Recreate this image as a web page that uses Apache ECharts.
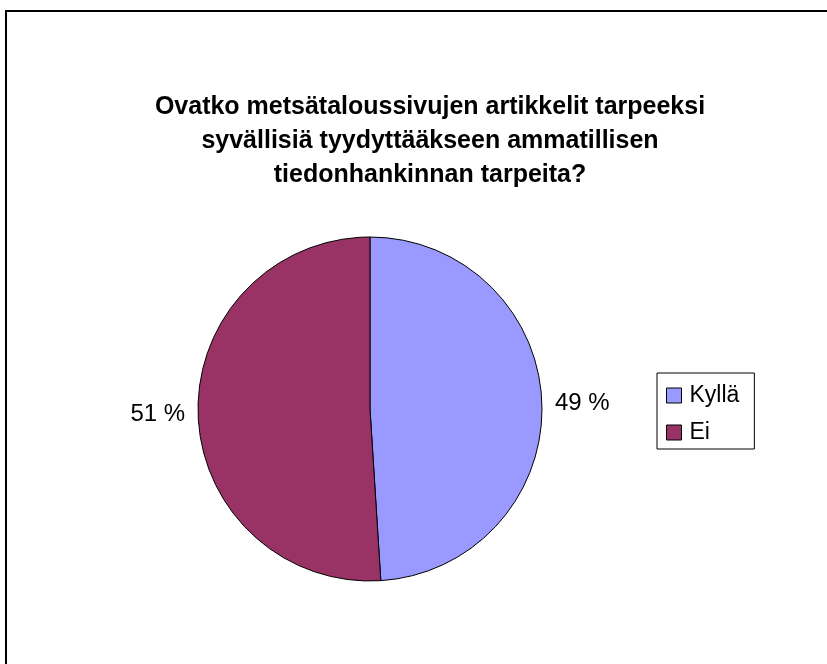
<!DOCTYPE html>
<html><head><meta charset="utf-8">
<script src="https://cdn.jsdelivr.net/npm/echarts@6/dist/echarts.min.js"></script>
<style>html,body{margin:0;padding:0;background:#fff}#c{width:827px;height:664px}</style>
</head><body><div id="c"></div>
<script>
const titleText = 'Ovatko metsätaloussivujen artikkelit tarpeeksi\nsyvällisiä tyydyttääkseen ammatillisen\ntiedonhankinnan tarpeita?';
const categories = ['Kyllä', 'Ei'];
const values = [49, 51];
const colors = ['#9999FF', '#993366'];

const chart = echarts.init(document.getElementById('c'), null, {renderer: 'canvas'});
chart.setOption({
  animation: false,
  backgroundColor: '#fff',
  graphic: [{
    type: 'rect', shape: {x: 6, y: 11, width: 900, height: 800},
    style: {fill: 'none', stroke: '#000', lineWidth: 2}, silent: true
  }],
  title: {
    text: titleText, left: 425, top: 85, textAlign: 'center',
    textStyle: {fontFamily: 'Liberation Sans, Arial', fontWeight: 'bold', fontSize: 25, lineHeight: 34, color: '#000'}
  },
  legend: {
    orient: 'vertical', left: 657, top: 373, itemWidth: 15, itemHeight: 15, itemGap: 14,
    padding: [11, 15, 5, 9], borderColor: '#000', borderWidth: 1,
    icon: 'rect',
    textStyle: {fontFamily: 'Liberation Sans, Arial', fontSize: 23, lineHeight: 23, color: '#000', padding: [0, 0, 0, 3]},
    data: categories.map(function (n) { return {name: n, itemStyle: {borderColor: '#000', borderWidth: 1}}; })
  },
  series: [{
    type: 'pie', center: [370, 409], radius: 172, startAngle: 90, clockwise: true,
    itemStyle: {borderColor: '#000', borderWidth: 1},
    label: {
      show: true, position: 'outside', formatter: '{c} %',
      fontFamily: 'Liberation Sans, Arial', fontSize: 24, color: '#000'
    },
    labelLine: {show: false, length: 8, length2: 0},
    emphasis: {disabled: true},
    data: categories.map(function (n, i) { return {name: n, value: values[i], itemStyle: {color: colors[i]}}; })
  }]
});
</script></body></html>
